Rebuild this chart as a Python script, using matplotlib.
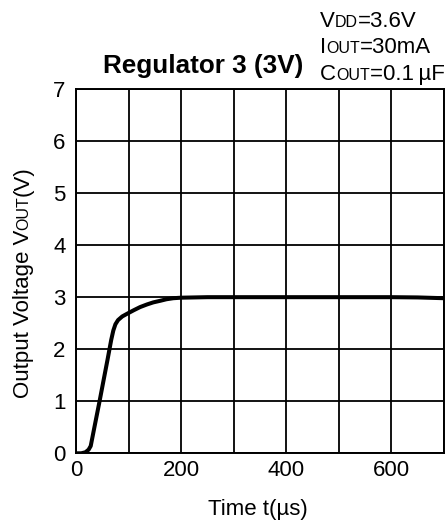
import matplotlib
matplotlib.use("Agg")
import matplotlib.pyplot as plt
from matplotlib.transforms import IdentityTransform

plt.rcParams['font.family'] = ['Liberation Sans', 'DejaVu Sans']

# ---- data ----
time_us = [0, 10, 18, 24, 28, 35, 45, 52, 60, 67, 71, 75, 80, 88, 97, 110, 122,
           135, 147, 160, 172, 185, 200, 250, 300, 400, 500, 600, 650, 700]
vout = [0.0, 0.0, 0.02, 0.07, 0.14, 0.5, 1.01, 1.38, 1.8, 2.18, 2.36, 2.48, 2.56,
        2.63, 2.68, 2.75, 2.81, 2.86, 2.9, 2.93, 2.96, 2.98, 2.99, 3.0, 3.0, 3.0,
        3.0, 3.0, 2.995, 2.98]
xticks = [0, 200, 400, 600]
yticks = [0, 1, 2, 3, 4, 5, 6, 7]
title = "Regulator 3 (3V)"
conditions = [[("V", 16), ("DD", 11.5), ("=3.6V", 16)],
              [("I", 16), ("OUT", 11.5), ("=30mA", 16)],
              [("C", 16), ("OUT", 11.5), ("=0.1\u2009µF", 16)]]
ylabel_parts = [("Output Voltage V", 16), ("OUT", 11.5), ("(V)", 16)]
xlabel = "Time t(µs)"

W, H = 446, 523
fig = plt.figure(figsize=(W / 100, H / 100), dpi=100)
ax = fig.add_axes([76 / W, 1 - 453.3 / H, (444 - 76) / W, (453.3 - 89) / H])

ax.set_xlim(0, 700)
ax.set_ylim(0, 7)
ax.set_xticks(range(0, 701, 100))
ax.set_xticklabels([str(v) if v in xticks else "" for v in range(0, 701, 100)])
ax.set_yticks(yticks)
ax.set_yticklabels([str(v) for v in yticks])
ax.tick_params(axis='both', length=0, labelsize=16, colors='black')
ax.tick_params(axis='x', pad=4.5)
ax.tick_params(axis='y', pad=7.5)
ax.grid(True, color='black', linewidth=1.3)
for s in ax.spines.values():
    s.set_linewidth(1.4)
    s.set_color('black')

ax.plot(time_us, vout, color='black', linewidth=2.9, solid_joinstyle='round',
        solid_capstyle='butt', zorder=3)

fig.text(202.7, H - 72.7, title, transform=IdentityTransform(), ha='center',
         va='baseline', fontsize=18.8, fontweight='bold', color='black')
fig.text(257.7, H - 515, xlabel, transform=IdentityTransform(), ha='center',
         va='baseline', fontsize=16)

fig.canvas.draw()
renderer = fig.canvas.get_renderer()


def place(x, y, pieces, rot=0):
    for s, size in pieces:
        t = fig.text(x, y, s, fontsize=size, transform=IdentityTransform(),
                     ha='left', va='baseline', rotation=rot, rotation_mode='anchor')
        bb = t.get_window_extent(renderer)
        if rot == 0:
            x += bb.width
        else:
            y += bb.height


for i, line in enumerate(conditions):
    place(320, H - (26.7 + 26.7 * i), line)

place(28.5, H - 398, ylabel_parts, rot=90)

fig.savefig("out.png", dpi=100)
